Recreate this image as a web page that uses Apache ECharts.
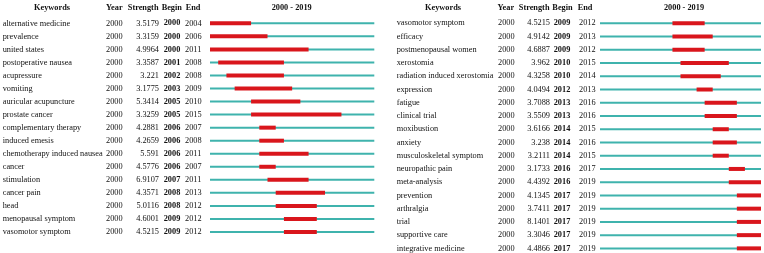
<!DOCTYPE html>
<html>
<head>
<meta charset="utf-8">
<script src="https://cdn.jsdelivr.net/npm/echarts@6/dist/echarts.min.js"></script>
<style>
  html, body { margin: 0; padding: 0; background: #fff; }
  #chart { width: 764px; height: 253px; }
</style>
</head>
<body>
<div id="chart"></div>
<script>
// left table
const leftKeywords = ['alternative medicine', 'prevalence', 'united states', 'postoperative nausea', 'acupressure', 'vomiting', 'auricular acupuncture', 'prostate cancer', 'complementary therapy', 'induced emesis', 'chemotherapy induced nausea', 'cancer', 'stimulation', 'cancer pain', 'head', 'menopausal symptom', 'vasomotor symptom']
const leftYear = [2000, 2000, 2000, 2000, 2000, 2000, 2000, 2000, 2000, 2000, 2000, 2000, 2000, 2000, 2000, 2000, 2000]
const leftStrength = ['3.5179', '3.3159', '4.9964', '3.3587', '3.221', '3.1775', '5.3414', '3.3259', '4.2881', '4.2659', '5.591', '4.5776', '6.9107', '4.3571', '5.0116', '4.6001', '4.5215']
const leftBegin = [2000, 2000, 2000, 2001, 2002, 2003, 2005, 2005, 2006, 2006, 2006, 2006, 2007, 2008, 2008, 2009, 2009]
const leftEnd = [2004, 2006, 2011, 2008, 2008, 2009, 2010, 2015, 2007, 2008, 2011, 2007, 2011, 2013, 2012, 2012, 2012]

// right table
const rightKeywords = ['vasomotor symptom', 'efficacy', 'postmenopausal women', 'xerostomia', 'radiation induced xerostomia', 'expression', 'fatigue', 'clinical trial', 'moxibustion', 'anxiety', 'musculoskeletal symptom', 'neuropathic pain', 'meta-analysis', 'prevention', 'arthralgia', 'trial', 'supportive care', 'integrative medicine']
const rightYear = [2000, 2000, 2000, 2000, 2000, 2000, 2000, 2000, 2000, 2000, 2000, 2000, 2000, 2000, 2000, 2000, 2000, 2000]
const rightStrength = ['4.5215', '4.9142', '4.6887', '3.962', '4.3258', '4.0494', '3.7088', '3.5509', '3.6166', '3.238', '3.2111', '3.1733', '4.4392', '4.1345', '3.7411', '8.1401', '3.3046', '4.4866']
const rightBegin = [2009, 2009, 2009, 2010, 2010, 2012, 2013, 2013, 2014, 2014, 2014, 2016, 2016, 2017, 2017, 2017, 2017, 2017]
const rightEnd = [2012, 2013, 2012, 2015, 2014, 2013, 2016, 2016, 2015, 2016, 2015, 2017, 2019, 2019, 2019, 2019, 2019, 2019]

const yearStart = 2000
const yearEnd = 2019

const FONT = 'Liberation Serif'
const FS = 8.3
const TEAL = '#3fb3ad'
const RED = '#d9161c'

// one text column = one category y axis with its own label margin
function column(gridIndex, keywords, values, margin, align, bold) {
  return {
    type: 'category',
    gridIndex,
    position: 'left',
    offset: 0,
    inverse: true,
    data: keywords,
    axisLine: { show: false },
    axisTick: { show: false },
    splitLine: { show: false },
    axisLabel: {
      interval: 0,
      hideOverlap: false,
      margin,
      align,
      color: '#111',
      fontFamily: FONT,
      fontSize: FS,
      fontWeight: bold ? 'bold' : 'normal',
      padding: [0, 0, 3, 0],
      formatter: (v, i) => String(values[i]),
    },
  }
}

function burstSeries(gridIndex, yAxisIndex, begin, end) {
  return {
    type: 'custom',
    xAxisIndex: gridIndex,
    yAxisIndex,
    data: begin.map((b, i) => [i, b, end[i]]),
    encode: { x: [1, 2], y: 0 },
    clip: false,
    renderItem(params, api) {
      const row = api.value(0)
      const a = api.coord([yearStart, row])
      const b = api.coord([yearEnd + 1, row])
      const s = api.coord([api.value(1), row])
      const e = api.coord([api.value(2) + 1, row])
      return {
        type: 'group',
        children: [
          { type: 'rect', shape: { x: a[0], y: a[1] - 1, width: b[0] - a[0], height: 2 }, style: { fill: TEAL } },
          { type: 'rect', shape: { x: s[0], y: s[1] - 2, width: e[0] - s[0], height: 4 }, style: { fill: RED } },
        ],
      }
    },
  }
}

function header(x, text, align) {
  return {
    type: 'text',
    x,
    y: 7.5,
    style: { text, fontFamily: FONT, fontSize: FS, fontWeight: 'bold', fill: '#111', textAlign: align, textVerticalAlign: 'middle' },
  }
}

const chart = echarts.init(document.getElementById('chart'))
chart.setOption({
  animation: false,
  grid: [
    { left: 210, top: 16.8, width: 164.3, height: 221.7, containLabel: false, outerBoundsMode: 'none' },
    { left: 600, top: 16.7, width: 161, height: 238.3, containLabel: false, outerBoundsMode: 'none' },
  ],
  xAxis: [
    { type: 'value', gridIndex: 0, min: yearStart, max: yearEnd + 1, show: false },
    { type: 'value', gridIndex: 1, min: yearStart, max: yearEnd + 1, show: false },
  ],
  yAxis: [
    column(0, leftKeywords, leftKeywords, 207.3, 'left'),
    column(0, leftKeywords, leftYear, 104, 'left'),
    column(0, leftKeywords, leftStrength, 51, 'right'),
    column(0, leftKeywords, leftBegin, 38, 'center', true),
    column(0, leftKeywords, leftEnd, 25, 'left'),
    column(1, rightKeywords, rightKeywords, 203.3, 'left'),
    column(1, rightKeywords, rightYear, 102, 'left'),
    column(1, rightKeywords, rightStrength, 50, 'right'),
    column(1, rightKeywords, rightBegin, 38, 'center', true),
    column(1, rightKeywords, rightEnd, 21, 'left'),
  ],
  series: [
    burstSeries(0, 0, leftBegin, leftEnd),
    burstSeries(1, 5, rightBegin, rightEnd),
  ],
  graphic: [
    header(52, 'Keywords', 'center'),
    header(106, 'Year', 'left'),
    header(158.5, 'Strength', 'right'),
    header(171.8, 'Begin', 'center'),
    header(185.7, 'End', 'left'),
    header(291.7, yearStart + ' - ' + yearEnd, 'center'),
    header(443, 'Keywords', 'center'),
    header(497.5, 'Year', 'left'),
    header(549.5, 'Strength', 'right'),
    header(562.5, 'Begin', 'center'),
    header(577.7, 'End', 'left'),
    header(684, yearStart + ' - ' + yearEnd, 'center'),
  ],
})
</script>
</body>
</html>
